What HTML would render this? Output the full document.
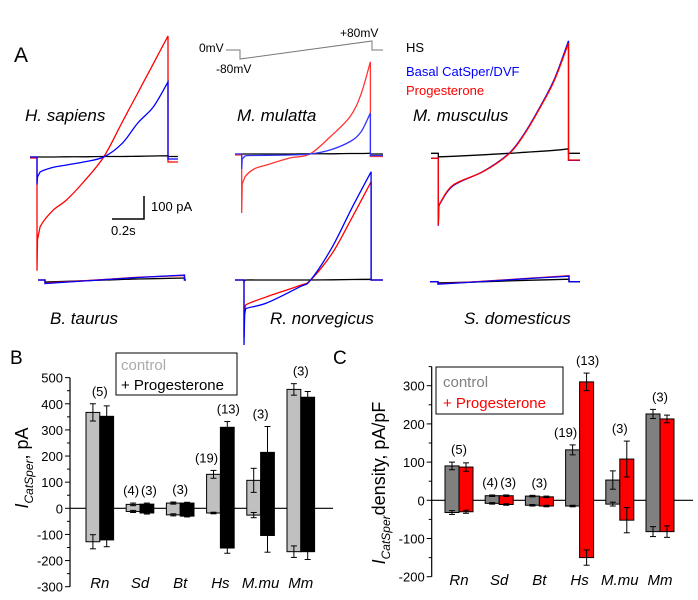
<!DOCTYPE html>
<html><head><meta charset="utf-8"><style>
body{margin:0;background:#fff}
svg{display:block;font-family:"Liberation Sans",Arial,sans-serif}
</style></head><body>
<svg id="fig" width="698" height="600" viewBox="0 0 698 600" xmlns="http://www.w3.org/2000/svg">
<text x="14" y="62" font-size="21">A</text>
<g font-size="17" font-style="italic">
<text x="25" y="121">H. sapiens</text>
<text x="237" y="121">M. mulatta</text>
<text x="413" y="121">M. musculus</text>
<text x="50" y="324">B. taurus</text>
<text x="270" y="324">R. norvegicus</text>
<text x="464" y="324">S. domesticus</text>
</g>
<g>
<polyline points="226,50 240,50 240,59 372,41 372,50 383,50" fill="none" stroke="#777" stroke-width="1"/>
<text x="199" y="52" font-size="12">0mV</text>
<text x="216" y="73" font-size="12">-80mV</text>
<text x="340" y="37" font-size="12">+80mV</text>
</g>
<g font-size="13">
<text x="406" y="52" fill="#000">HS</text>
<text x="406" y="76" fill="#0000ff">Basal CatSper/DVF</text>
<text x="406" y="95" fill="#ff0000">Progesterone</text>
</g>
<g>
<polyline points="144,196 144,219 112,219" fill="none" stroke="#000" stroke-width="1.5"/>
<text x="151" y="211" font-size="13">100 pA</text>
<text x="111" y="235" font-size="13">0.2s</text>
</g>
<g id="traces"></g>

<text x="10" y="364" font-size="19">B</text>
<g id="panelB"></g>
<text transform="translate(28,468) rotate(-90)" text-anchor="middle" font-size="18"><tspan font-style="italic">I</tspan><tspan font-size="12" font-style="italic" dy="5">CatSper</tspan><tspan dy="-5">, pA</tspan></text>
<g>
<rect x="116" y="353" width="121" height="42" fill="#fff" stroke="#000" stroke-width="1"/>
<text x="121" y="370" font-size="15" fill="#aaa">control</text>
<text x="121" y="390" font-size="15" fill="#000">+ Progesterone</text>
</g>

<text x="333" y="364" font-size="19">C</text>
<g id="panelC"></g>
<text transform="translate(385,483) rotate(-90)" text-anchor="middle" font-size="18"><tspan font-style="italic">I</tspan><tspan font-size="12" font-style="italic" dy="5">CatSper</tspan><tspan dy="-5">density, pA/pF</tspan></text>
<g>
<rect x="436" y="367" width="127" height="47" fill="#fff" stroke="#000" stroke-width="1"/>
<text x="443" y="387" font-size="15" fill="#808080">control</text>
<text x="443" y="408" font-size="15" fill="#ff0000">+ Progesterone</text>
</g>
</svg>
<script>
// ---------- Panel A trace data (time s, current pA) ----------
const hsT = [0,0.003,0.02,0.1,0.19,0.3,0.43,0.55,0.65,0.75,0.845];
const hsRed = [-455,-330,-279,-215,-172,-100,0,140,256,373,484];
const hsBlue = [-110,-80,-60,-42,-32,-20,0,55,136,200,300];
const hsBlack = [0,0,0,0,1,1,2,2,3,4,5];
const mmuT = [0,0.003,0.021,0.08,0.16,0.31,0.44,0.57,0.7,0.77,0.83];
const mmuRed = [-236,-120,-91,-60,-44,-16,0,68,150,240,369];
const mmuBlue = [-60,-20,-8,-6,-5,-4,0,16,50,89,164];
const mmuBlack = [0,0,0,0,0,0,1,1,2,2,3];
const rnT = [0,0.004,0.01,0.146,0.36,0.43,0.57,0.7,0.82];
const rnBlue = [-260,-140,-115,-92,-27,0,133,293,433];
const rnRed = [-230,-120,-100,-67,-22,0,108,253,393];
const rnBlack = [-5,-2,0,0,0,0,1,2,3];
const musT = [0,0.004,0.011,0.095,0.29,0.46,0.56,0.66,0.75,0.84];
const musRed = [-287,-210,-199,-127,-73,0,81,186,293,441];
const musBlue = [-290,-212,-201,-130,-72,2,84,190,298,450];
const musBlack = [-15,-14,-14,-12,-6,0,4,8,12,18];
const btT = [0,0.2,0.4,0.6,0.9];
const btBlue = [-14,-6,2,10,20];
const btRed = [-12,-5,3,11,18];
const btBlack = [-8,-4,0,4,8];
const sdT = [0,0.2,0.4,0.6,0.845];
const sdBlue = [-10,-3,5,13,22];
const sdRed = [-9,-2,6,14,24];
const sdBlack = [-5,-2,2,6,10];

const NS = "http://www.w3.org/2000/svg";
const PX_PER_S = 155, PX_PER_PA = 0.25;
function trace(g, name, color, x0, y0, xs, xe, ts, vals, pre, post, w) {
  const X = t => x0 + t * PX_PER_S, Y = v => y0 - v * PX_PER_PA;
  const pts = ts.map((t, i) => [X(t), Y(vals[i])]);
  let d = `M${xs},${Y(pre)} H${x0} L${pts[0][0].toFixed(1)},${pts[0][1].toFixed(1)}`;
  for (let i = 0; i < pts.length - 1; i++) {
    const p0 = pts[Math.max(0, i - 1)], p1 = pts[i], p2 = pts[i + 1], p3 = pts[Math.min(pts.length - 1, i + 2)];
    if (i < 2) { d += ` L${p2[0].toFixed(1)},${p2[1].toFixed(1)}`; continue; }
    const c1 = [p1[0] + (p2[0] - p0[0]) / 6, p1[1] + (p2[1] - p0[1]) / 6];
    const c2 = [p2[0] - (p3[0] - p1[0]) / 6, p2[1] - (p3[1] - p1[1]) / 6];
    d += ` C${c1[0].toFixed(1)},${c1[1].toFixed(1)} ${c2[0].toFixed(1)},${c2[1].toFixed(1)} ${p2[0].toFixed(1)},${p2[1].toFixed(1)}`;
  }
  d += ` V${Y(post)} H${xe}`;
  const p = document.createElementNS(NS, "path");
  p.setAttribute("d", d);
  p.setAttribute("fill", "none");
  p.setAttribute("stroke", color);
  p.setAttribute("stroke-width", w || 1.3);
  
  
  g.appendChild(p);
}
const tg = document.getElementById("traces");
trace(tg, "hs-black", "#000", 37, 157, 30, 178, hsT, hsBlack, 0, 2);
trace(tg, "hs-red", "#f00", 37, 157, 30, 178, hsT, hsRed, -4, -20);
trace(tg, "hs-blue", "#00f", 37, 157, 30, 178, hsT, hsBlue, 0, -8);
trace(tg, "mmu-black", "#000", 241.7, 154, 235, 383, mmuT, mmuBlack, 0, 0);
trace(tg, "mmu-red", "#f33", 241.7, 154, 235, 383, mmuT, mmuRed, -4, -10);
trace(tg, "mmu-blue", "#33f", 241.7, 154, 235, 383, mmuT, mmuBlue, 0, -6);
trace(tg, "rn-black", "#000", 244, 280, 235, 383, rnT, rnBlack, 0, 0);
trace(tg, "rn-red", "#f00", 244, 280, 235, 383, rnT, rnRed, 0, 0);
trace(tg, "rn-blue", "#00f", 244, 280, 235, 383, rnT, rnBlue, 0, 0);
trace(tg, "mus-black", "#000", 438.3, 153.3, 431, 580, musT, musBlack, 0, 0);
trace(tg, "mus-blue", "#00f", 438.3, 153.3, 431, 580, musT, musBlue, -20, -28);
trace(tg, "mus-red", "#f00", 438.3, 153.3, 431, 580, musT, musRed, -20, -27);
trace(tg, "bt-black", "#000", 45, 280, 38, 186, btT, btBlack, 0, 0);
trace(tg, "bt-red", "#f00", 45, 280, 38, 186, btT, btRed, 0, 0);
trace(tg, "bt-blue", "#00f", 45, 280, 38, 186, btT, btBlue, 0, 0);
trace(tg, "sd-black", "#000", 438, 281.7, 430, 580, sdT, sdBlack, 0, 0);
trace(tg, "sd-red", "#f00", 438, 281.7, 430, 580, sdT, sdRed, 0, 0);
trace(tg, "sd-blue", "#00f", 438, 281.7, 430, 580, sdT, sdBlue, 0, 0);

// ---------- Panel B data (pA) ----------
const categories = ["Rn","Sd","Bt","Hs","M.mu","Mm"];
const bCtrlPos = [367,15,20,130,107,455];
const bCtrlNeg = [-128,-12,-25,-18,-26,-166];
const bCtrlErrPos = [33,5,4,15,46,22];
const bCtrlErrNeg = [27,4,4,3,10,22];
const bProgPos = [352,16,20,310,214,425];
const bProgNeg = [-121,-18,-30,-152,-104,-166];
const bProgErrPos = [40,4,3,22,99,22];
const bProgErrNeg = [26,4,3,20,64,30];
const bN = ["(5)","(4)","(3)","(19)","(3)","(3)"];
const bNProg = ["","(3)","","(13)","",""];
const bTicks = [500,400,300,200,100,0,-100,-200,-300];

// ---------- Panel C data (pA/pF) ----------
const cCtrlPos = [90,12,11,132,53,226];
const cCtrlNeg = [-32,-8,-13,-15,-10,-82];
const cCtrlErrPos = [10,2,2,13,24,12];
const cCtrlErrNeg = [5,2,2,2,5,13];
const cProgPos = [87,12,9,310,108,213];
const cProgNeg = [-30,-11,-15,-150,-52,-82];
const cProgErrPos = [11,2,2,23,47,10];
const cProgErrNeg = [4,2,2,20,33,15];
const cN = ["(5)","(4)","(3)","(19)","(3)","(3)"];
const cNProg = ["","(3)","","(13)","",""];
const cTicks = [300,200,100,0,-100,-200];

function el(tag, attrs, parent) {
  const e = document.createElementNS(NS, tag);
  for (const k in attrs) e.setAttribute(k, attrs[k]);
  parent.appendChild(e);
  return e;
}
function drawPanel(cfg) {
  const g = document.getElementById(cfg.id);
  const y = v => cfg.zeroY - v * cfg.k;
  const xg = i => cfg.x0 + i * cfg.step;
  const ax = el("line", {x1: cfg.axX, x2: cfg.axX, y1: y(cfg.max), y2: y(cfg.min), stroke: "#000", "stroke-width": 1.2}, g);
  
  
  for (let v = cfg.min; v <= cfg.max; v += cfg.minor) {
    const major = cfg.ticks.includes(v);
    el("line", {x1: cfg.axX - (major ? 5 : 3), x2: cfg.axX, y1: y(v), y2: y(v), stroke: "#000", "stroke-width": 1}, g);
  }
  cfg.ticks.forEach(v => {
    const t = el("text", {x: cfg.axX - 7, y: y(v) + 5, "text-anchor": "end", "font-size": 13}, g);
    t.textContent = v;
    
    
  });
  const zl = el("line", {x1: cfg.axX, x2: cfg.zeroEnd, y1: y(0), y2: y(0), stroke: "#000", "stroke-width": 1.2}, g);
  
  
  const series = [
    {pos: cfg.cp, neg: cfg.cn, ep: cfg.cep, en: cfg.cen, fill: cfg.ctrlFill, off: 0, nm: "control"},
    {pos: cfg.pp, neg: cfg.pn, ep: cfg.pep, en: cfg.pen, fill: cfg.progFill, off: cfg.bw, nm: "progesterone"}
  ];
  series.forEach(s => {
    categories.forEach((c, i) => {
      const x = xg(i) + s.off;
      const r = el("rect", {x: x, y: y(s.pos[i]), width: cfg.bw, height: y(s.neg[i]) - y(s.pos[i]), fill: s.fill, stroke: "#000", "stroke-width": 1}, g);
      
      
      const cx = x + cfg.bw / 2;
      [[s.pos[i], s.ep[i]], [s.neg[i], s.en[i]]].forEach(([v, e]) => {
        el("line", {x1: cx, x2: cx, y1: y(v + e), y2: y(v - e), stroke: "#000", "stroke-width": 1}, g);
        el("line", {x1: cx - 3, x2: cx + 3, y1: y(v + e), y2: y(v + e), stroke: "#000", "stroke-width": 1}, g);
        el("line", {x1: cx - 3, x2: cx + 3, y1: y(v - e), y2: y(v - e), stroke: "#000", "stroke-width": 1}, g);
      });
    });
  });
  categories.forEach((c, i) => {
    const t = el("text", {x: xg(i) + cfg.bw, y: cfg.catY, "text-anchor": "middle", "font-size": 15, "font-style": "italic"}, g);
    t.textContent = c;
    
    
    const top = Math.max(cfg.cp[i] + cfg.cep[i], cfg.pp[i] + cfg.pep[i]);
    if (cfg.nProg[i]) {
      const big = cfg.n[i].length > 3;
      const t1 = el("text", {x: xg(i) + cfg.bw * 0.5 - (big ? 7 : 2), y: y(cfg.cp[i] + cfg.cep[i]) - 8, "text-anchor": "middle", "font-size": 13}, g);
      t1.textContent = cfg.n[i];
      
      
      const t2 = el("text", {x: xg(i) + cfg.bw * 1.5 + (big ? 1 : 2), y: y(cfg.pp[i] + cfg.pep[i]) - 8, "text-anchor": "middle", "font-size": 13}, g);
      t2.textContent = cfg.nProg[i];
      
      
    } else {
      const t1 = el("text", {x: xg(i) + cfg.bw, y: y(top) - 8, "text-anchor": "middle", "font-size": 13}, g);
      t1.textContent = cfg.n[i];
      
      
    }
  });
}
drawPanel({id: "panelB", zeroY: 508.3, k: 0.2613, axX: 70, zeroEnd: 333, x0: 86, step: 40.2, bw: 13.8,
  max: 500, min: -300, minor: 50, ticks: bTicks, catY: 588,
  cp: bCtrlPos, cn: bCtrlNeg, cep: bCtrlErrPos, cen: bCtrlErrNeg,
  pp: bProgPos, pn: bProgNeg, pep: bProgErrPos, pen: bProgErrNeg,
  ctrlFill: "#c0c0c0", progFill: "#000", n: bN, nProg: bNProg});
drawPanel({id: "panelC", zeroY: 500.3, k: 0.382, axX: 431.7, zeroEnd: 693, x0: 445, step: 40.2, bw: 14,
  max: 350, min: -200, minor: 50, ticks: cTicks, catY: 585,
  cp: cCtrlPos, cn: cCtrlNeg, cep: cCtrlErrPos, cen: cCtrlErrNeg,
  pp: cProgPos, pn: cProgNeg, pep: cProgErrPos, pen: cProgErrNeg,
  ctrlFill: "#808080", progFill: "#ff0000", n: cN, nProg: cNProg});
</script>
</body></html>
